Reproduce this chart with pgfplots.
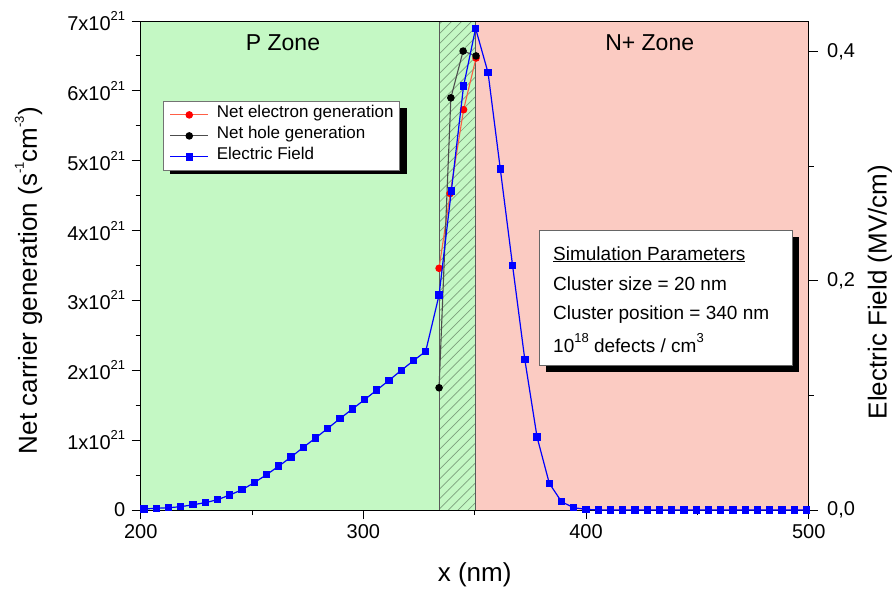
\documentclass[border=0pt]{standalone}
\usepackage{fontspec}
\setmainfont{Liberation Sans}
\usepackage{pgfplots}
\usepackage{pgfplotstable}
\pgfplotsset{compat=1.18}
\usetikzlibrary{patterns.meta}
\newcommand\sups[1]{\raisebox{0.5em}{\fontsize{13}{13}\selectfont #1}}
\definecolor{pzone}{RGB}{196,248,196}
\definecolor{nzone}{RGB}{251,203,194}
\definecolor{hatchc}{RGB}{125,160,125}
\definecolor{eline}{RGB}{255,95,70}

\pgfplotstableread{
x E
201.5 0.0009
207.0 0.0015
212.5 0.0020
218.0 0.0029
223.5 0.0046
229.0 0.0064
234.5 0.0090
240.0 0.0131
245.5 0.0177
251.0 0.0239
256.5 0.0308
262.0 0.0383
267.5 0.0462
273.0 0.0547
278.5 0.0628
284.0 0.0713
289.5 0.0798
295.0 0.0881
300.5 0.0963
306.0 0.1047
311.5 0.1132
317.0 0.1219
322.5 0.1304
328.0 0.1386
334.0 0.1877
339.5 0.2785
345.0 0.3702
350.4 0.4205
356.0 0.3818
361.5 0.2977
367.0 0.2136
372.5 0.1314
378.0 0.0637
383.5 0.0233
389.0 0.0072
394.5 0.0020
400.0 0.0006
405.5 0
411.0 0
416.5 0
422.0 0
427.5 0
433.0 0
438.5 0
444.0 0
449.5 0
455.0 0
460.5 0
466.0 0
471.5 0
477.0 0
482.5 0
488.0 0
493.5 0
499.0 0
}\efield

\pgfplotstableread{
x G
334.0 3.46
339.0 4.53
345.0 5.73
350.6 6.47
}\elec

\pgfplotstableread{
x G
334.0 1.75
339.3 5.90
344.8 6.57
350.6 6.50
}\hole

\begin{document}
\begin{tikzpicture}
\pgfplotsset{
  common/.style={
    width=668pt, height=489pt, scale only axis,
    xmin=200, xmax=500,
    tick align=outside,
    major tick length=9pt, minor tick length=5pt,
    every tick label/.append style={font=\fontsize{20}{24}\selectfont},
    label style={font=\fontsize{26}{30}\selectfont},
    axis line style={line width=1pt},
    every tick/.style={black, line width=1pt},
    /pgf/number format/assume math mode=true,
  }
}
\begin{axis}[common, name=ax1, axis on top,
  ymin=0, ymax=7,
  xtick={200,300,400,500}, minor x tick num=1, xtick pos=left,
  ytick={0,1,2,3,4,5,6,7},
  yticklabels={0,1x10\sups{21},2x10\sups{21},3x10\sups{21},4x10\sups{21},5x10\sups{21},6x10\sups{21},7x10\sups{21}},
  minor y tick num=1, ytick pos=left,
  xticklabel style={yshift=-2pt},
  yticklabel style={xshift=-3pt},
  xlabel={x (nm)},
  xlabel style={at={(axis description cs:0.5,0)}, anchor=base, yshift=-71.7pt},
  ylabel={Net carrier generation (s\sups{-1}cm\sups{-3})},
  ylabel style={at={(axis description cs:-0.168,0.469)}, anchor=center},
]
\fill[pzone] (axis cs:200,0) rectangle (axis cs:350.4,7);
\fill[nzone] (axis cs:350.4,0) rectangle (axis cs:500,7);
\fill[pattern={Lines[angle=45,distance=7pt,line width=0.7pt]}, pattern color=hatchc] (axis cs:334,0) rectangle (axis cs:350.4,7);
\draw[line width=0.9pt, black!65] (axis cs:334,0) -- (axis cs:334,7);
\draw[line width=0.9pt, black!65] (axis cs:350.4,0) -- (axis cs:350.4,7);
% legend shadow
\fill[black] (rel axis cs:0.0443,0.6871) rectangle (rel axis cs:0.3991,0.8221);
\addplot[eline, line width=1.1pt, mark=*, mark size=3.2pt, mark options={fill=red, draw=red, solid}] table[x=x,y=G]{\elec};
\addplot[black!70, line width=1.1pt, mark=*, mark size=3.2pt, mark options={fill=black, draw=black, solid}] table[x=x,y=G]{\hole};
\end{axis}

\begin{axis}[common,
  ymin=0, ymax=0.427,
  axis x line=none, axis y line*=right,
  ytick={0,0.2,0.4}, yticklabels={{0,0},{0,2},{0,4}},
  minor y tick num=1,
  yticklabel style={xshift=6pt},
  ylabel={Electric Field (MV/cm)},
  ylabel style={at={(axis description cs:1.1067,0.4458)}, anchor=center, rotate=0},
  legend style={at={(0.0338,0.8364)}, anchor=north west, draw=black!55, line width=0.8pt, fill=white,
    font=\fontsize{17}{20}\selectfont, inner xsep=6pt, inner ysep=3pt, row sep=0pt,
    cells={anchor=west}, nodes={inner sep=0pt, text height=13pt, text depth=8pt},
    /tikz/every odd column/.append style={column sep=8pt}},
  legend image code/.code={\draw[mark repeat=2,mark phase=2,#1] plot coordinates {(0pt,0pt) (19pt,0pt) (38pt,0pt)};},
]
\addlegendimage{eline, line width=1.1pt, mark=*, mark size=3.2pt, mark options={fill=red, draw=red, solid}}
\addlegendentry{Net electron generation}
\addlegendimage{black!70, line width=1.1pt, mark=*, mark size=3.2pt, mark options={fill=black, draw=black, solid}}
\addlegendentry{Net hole generation}
\addplot[blue, line width=1.2pt, mark=square*, mark size=3.1pt, mark options={fill=blue, draw=blue, solid}] table[x=x,y=E]{\efield};
\addlegendentry{Electric Field}
\end{axis}

\begin{scope}[shift={(ax1.south west)}]
\fill[black] (405.6pt,138pt) rectangle (658.3pt,273pt);
\filldraw[fill=white, draw=black!60, line width=0.8pt] (398.6pt,145pt) rectangle (651.3pt,280pt);
\begin{scope}[every node/.style={anchor=base west, inner sep=0pt, font=\fontsize{19}{23}\selectfont}]
\node at (412.3pt,250pt) {\underline{Simulation Parameters}};
\node at (412.3pt,220pt) {Cluster size = 20 nm};
\node at (412.3pt,190.7pt) {Cluster position = 340 nm};
\node at (412.3pt,157.7pt) {10\sups{18} defects / cm\sups{3}};
\end{scope}
\node[anchor=base, inner sep=0pt, font=\fontsize{23}{27}\selectfont] at (142.3pt,459.7pt) {P Zone};
\node[anchor=base, inner sep=0pt, font=\fontsize{23}{27}\selectfont] at (509pt,459.7pt) {N+ Zone};
\path[use as bounding box] (-140.7pt,-82pt) rectangle (755.3pt,510pt);
\end{scope}
\end{tikzpicture}
\end{document}
